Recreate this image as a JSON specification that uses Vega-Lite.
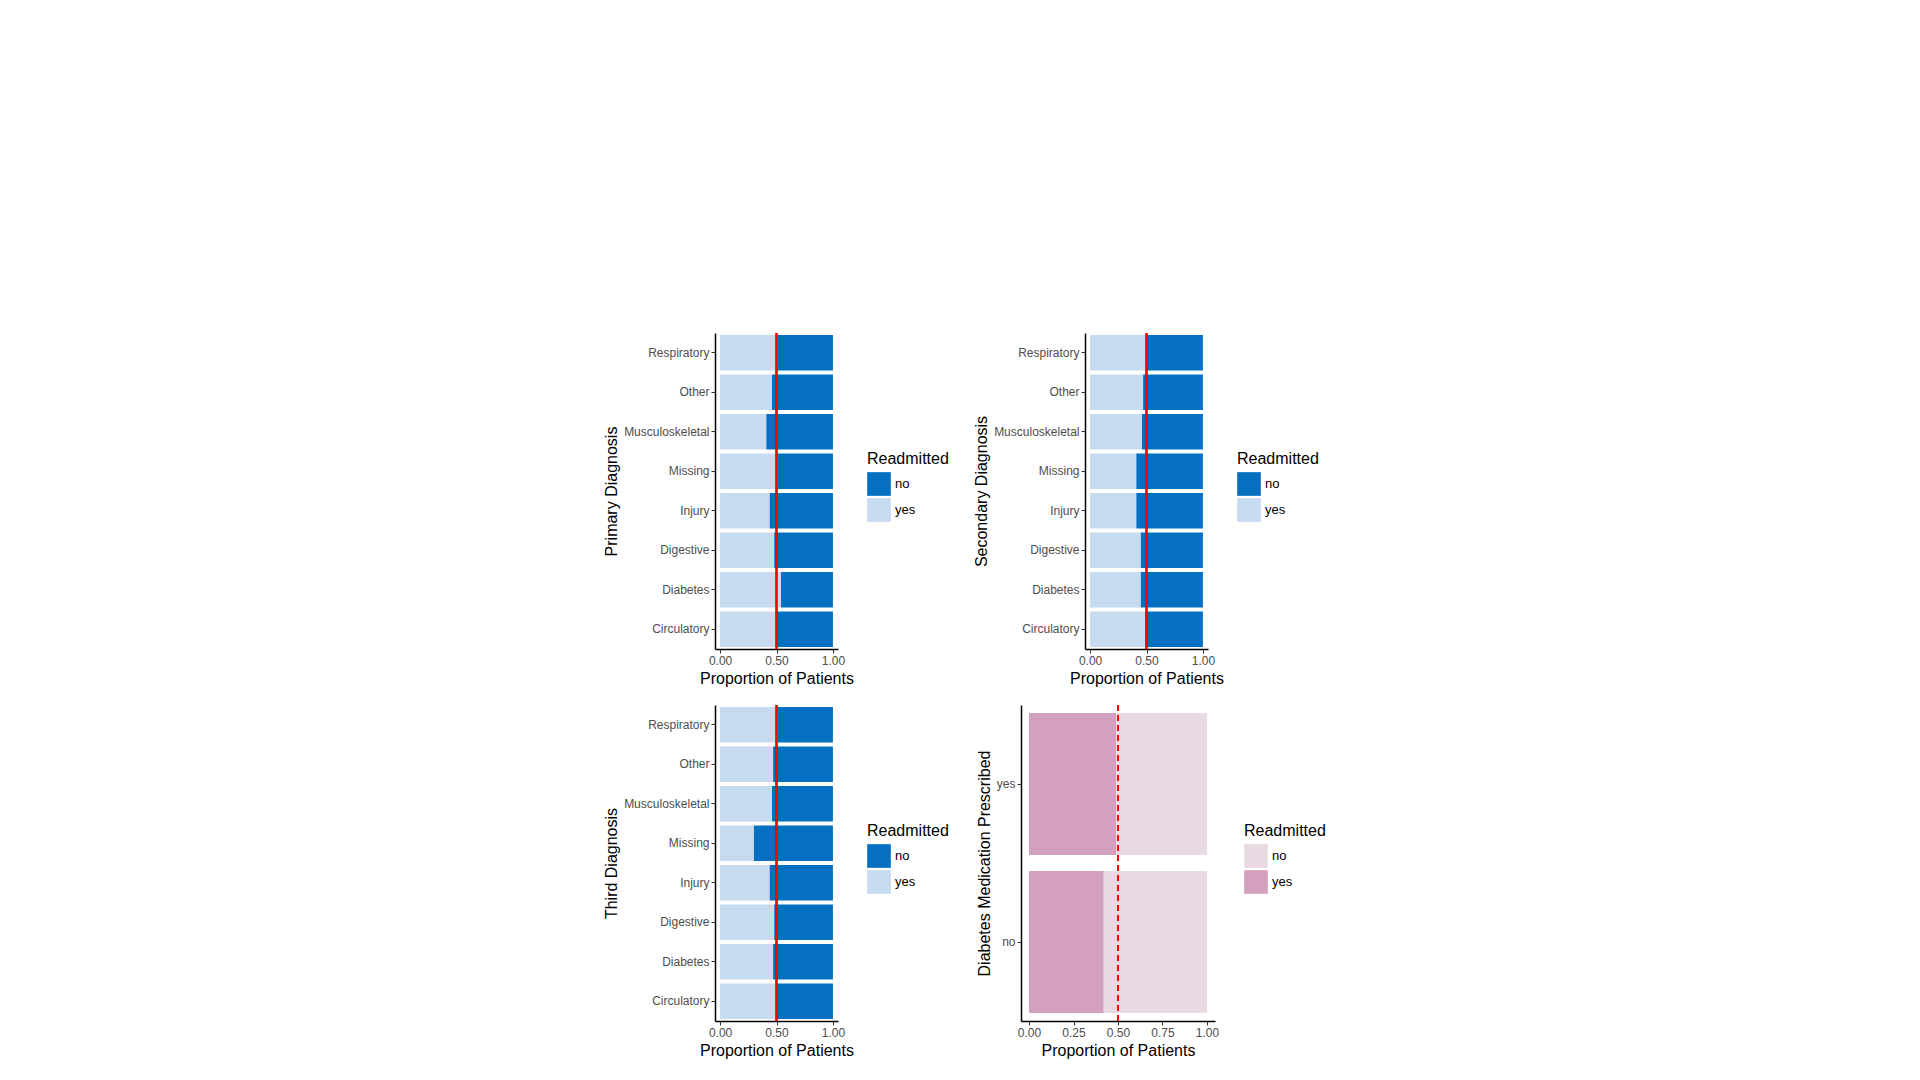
{
"$schema":"https://vega.github.io/schema/vega-lite/v6.json",
"background":"white",
"padding":{"left":603,"top":332,"right":10,"bottom":10},
"config":{"font":"Liberation Sans","view":{"stroke":null},
"axis":{"grid":false,"domainColor":"black","domainWidth":1.5,"tickColor":"#333","tickSize":4,"labelColor":"#4d4d4d","labelFontSize":12,"labelOverlap":false,"titleFontSize":16,"titleFontWeight":"normal","titleColor":"black"},
"legend":{"titleFontSize":16,"titleFontWeight":"normal","labelFontSize":13,"symbolType":"square","symbolSize":560,"symbolStrokeWidth":0,"rowPadding":2,"orient":"none","legendX":152,"legendY":118}},
"datasets":{"d":[
{"panel":"A","Diagnosis":"Respiratory","Readmitted":"yes","prop":0.51},{"panel":"A","Diagnosis":"Respiratory","Readmitted":"no","prop":0.49},
{"panel":"A","Diagnosis":"Other","Readmitted":"yes","prop":0.46},{"panel":"A","Diagnosis":"Other","Readmitted":"no","prop":0.54},
{"panel":"A","Diagnosis":"Musculoskeletal","Readmitted":"yes","prop":0.41},{"panel":"A","Diagnosis":"Musculoskeletal","Readmitted":"no","prop":0.59},
{"panel":"A","Diagnosis":"Missing","Readmitted":"yes","prop":0.51},{"panel":"A","Diagnosis":"Missing","Readmitted":"no","prop":0.49},
{"panel":"A","Diagnosis":"Injury","Readmitted":"yes","prop":0.44},{"panel":"A","Diagnosis":"Injury","Readmitted":"no","prop":0.56},
{"panel":"A","Diagnosis":"Digestive","Readmitted":"yes","prop":0.48},{"panel":"A","Diagnosis":"Digestive","Readmitted":"no","prop":0.52},
{"panel":"A","Diagnosis":"Diabetes","Readmitted":"yes","prop":0.54},{"panel":"A","Diagnosis":"Diabetes","Readmitted":"no","prop":0.46},
{"panel":"A","Diagnosis":"Circulatory","Readmitted":"yes","prop":0.50},{"panel":"A","Diagnosis":"Circulatory","Readmitted":"no","prop":0.50},
{"panel":"B","Diagnosis":"Respiratory","Readmitted":"yes","prop":0.505},{"panel":"B","Diagnosis":"Respiratory","Readmitted":"no","prop":0.495},
{"panel":"B","Diagnosis":"Other","Readmitted":"yes","prop":0.47},{"panel":"B","Diagnosis":"Other","Readmitted":"no","prop":0.53},
{"panel":"B","Diagnosis":"Musculoskeletal","Readmitted":"yes","prop":0.46},{"panel":"B","Diagnosis":"Musculoskeletal","Readmitted":"no","prop":0.54},
{"panel":"B","Diagnosis":"Missing","Readmitted":"yes","prop":0.41},{"panel":"B","Diagnosis":"Missing","Readmitted":"no","prop":0.59},
{"panel":"B","Diagnosis":"Injury","Readmitted":"yes","prop":0.41},{"panel":"B","Diagnosis":"Injury","Readmitted":"no","prop":0.59},
{"panel":"B","Diagnosis":"Digestive","Readmitted":"yes","prop":0.45},{"panel":"B","Diagnosis":"Digestive","Readmitted":"no","prop":0.55},
{"panel":"B","Diagnosis":"Diabetes","Readmitted":"yes","prop":0.45},{"panel":"B","Diagnosis":"Diabetes","Readmitted":"no","prop":0.55},
{"panel":"B","Diagnosis":"Circulatory","Readmitted":"yes","prop":0.49},{"panel":"B","Diagnosis":"Circulatory","Readmitted":"no","prop":0.51},
{"panel":"C","Diagnosis":"Respiratory","Readmitted":"yes","prop":0.51},{"panel":"C","Diagnosis":"Respiratory","Readmitted":"no","prop":0.49},
{"panel":"C","Diagnosis":"Other","Readmitted":"yes","prop":0.47},{"panel":"C","Diagnosis":"Other","Readmitted":"no","prop":0.53},
{"panel":"C","Diagnosis":"Musculoskeletal","Readmitted":"yes","prop":0.46},{"panel":"C","Diagnosis":"Musculoskeletal","Readmitted":"no","prop":0.54},
{"panel":"C","Diagnosis":"Missing","Readmitted":"yes","prop":0.30},{"panel":"C","Diagnosis":"Missing","Readmitted":"no","prop":0.70},
{"panel":"C","Diagnosis":"Injury","Readmitted":"yes","prop":0.44},{"panel":"C","Diagnosis":"Injury","Readmitted":"no","prop":0.56},
{"panel":"C","Diagnosis":"Digestive","Readmitted":"yes","prop":0.48},{"panel":"C","Diagnosis":"Digestive","Readmitted":"no","prop":0.52},
{"panel":"C","Diagnosis":"Diabetes","Readmitted":"yes","prop":0.47},{"panel":"C","Diagnosis":"Diabetes","Readmitted":"no","prop":0.53},
{"panel":"C","Diagnosis":"Circulatory","Readmitted":"yes","prop":0.50},{"panel":"C","Diagnosis":"Circulatory","Readmitted":"no","prop":0.50},
{"panel":"D","Diagnosis":"yes","Readmitted":"yes","prop":0.49},{"panel":"D","Diagnosis":"yes","Readmitted":"no","prop":0.51},
{"panel":"D","Diagnosis":"no","Readmitted":"yes","prop":0.42},{"panel":"D","Diagnosis":"no","Readmitted":"no","prop":0.58}
]},
"vconcat":[
{"hconcat":[
{"width":123,"height":316,"data":{"name":"d"},"transform":[{"filter":"datum.panel=='A'"}],"layer":[
{"mark":{"type":"bar","width":{"band":0.9}},"encoding":{
"y":{"field":"Diagnosis","type":"nominal","sort":"descending","title":"Primary Diagnosis","scale":{"paddingInner":0.1,"paddingOuter":0.05}},
"x":{"field":"prop","type":"quantitative","stack":"zero","title":"Proportion of Patients","scale":{"domain":[-0.045,1.045],"nice":false},"axis":{"values":[0,0.25,0.5,0.75,1],"format":".2f"}},
"color":{"field":"Readmitted","type":"nominal","scale":{"domain":["no","yes"],"range":["#0570c2","#c6dbef"]}},
"order":{"field":"Readmitted","sort":"descending"}}},
{"mark":{"type":"rule","color":"red","strokeWidth":1.2},"encoding":{"x":{"datum":0.5}}}]},
{"width":123,"height":316,"data":{"name":"d"},"transform":[{"filter":"datum.panel=='B'"}],"layer":[
{"mark":{"type":"bar","width":{"band":0.9}},"encoding":{
"y":{"field":"Diagnosis","type":"nominal","sort":"descending","title":"Secondary Diagnosis","scale":{"paddingInner":0.1,"paddingOuter":0.05}},
"x":{"field":"prop","type":"quantitative","stack":"zero","title":"Proportion of Patients","scale":{"domain":[-0.045,1.045],"nice":false},"axis":{"values":[0,0.25,0.5,0.75,1],"format":".2f"}},
"color":{"field":"Readmitted","type":"nominal","scale":{"domain":["no","yes"],"range":["#0570c2","#c6dbef"]}},
"order":{"field":"Readmitted","sort":"descending"}}},
{"mark":{"type":"rule","color":"red","strokeWidth":1.2},"encoding":{"x":{"datum":0.5}}}]}
],"spacing":24,"resolve":{"scale":{"color":"independent"}}},
{"hconcat":[
{"width":123,"height":316,"data":{"name":"d"},"transform":[{"filter":"datum.panel=='C'"}],"layer":[
{"mark":{"type":"bar","width":{"band":0.9}},"encoding":{
"y":{"field":"Diagnosis","type":"nominal","sort":"descending","title":"Third Diagnosis","scale":{"paddingInner":0.1,"paddingOuter":0.05}},
"x":{"field":"prop","type":"quantitative","stack":"zero","title":"Proportion of Patients","scale":{"domain":[-0.045,1.045],"nice":false},"axis":{"values":[0,0.25,0.5,0.75,1],"format":".2f"}},
"color":{"field":"Readmitted","type":"nominal","scale":{"domain":["no","yes"],"range":["#0570c2","#c6dbef"]}},
"order":{"field":"Readmitted","sort":"descending"}}},
{"mark":{"type":"rule","color":"red","strokeWidth":1.2},"encoding":{"x":{"datum":0.5}}}]},
{"width":194,"height":316,"data":{"name":"d"},"transform":[{"filter":"datum.panel=='D'"}],"layer":[
{"mark":{"type":"bar","width":{"band":0.9}},"encoding":{
"y":{"field":"Diagnosis","type":"nominal","sort":"descending","title":"Diabetes Medication Prescribed","scale":{"paddingInner":0.1,"paddingOuter":0.05}},
"x":{"field":"prop","type":"quantitative","stack":"zero","title":"Proportion of Patients","scale":{"domain":[-0.045,1.045],"nice":false},"axis":{"values":[0,0.25,0.5,0.75,1],"format":".2f"}},
"color":{"field":"Readmitted","type":"nominal","scale":{"domain":["no","yes"],"range":["#e8d9e2","#d4a0bf"]},"legend":{"legendX":223}},
"order":{"field":"Readmitted","sort":"descending"}}},
{"mark":{"type":"rule","color":"red","strokeWidth":1.2,"strokeDash":[6,4]},"encoding":{"x":{"datum":0.5}}}]}
],"spacing":27,"resolve":{"scale":{"color":"independent"}}}
],"spacing":18}
